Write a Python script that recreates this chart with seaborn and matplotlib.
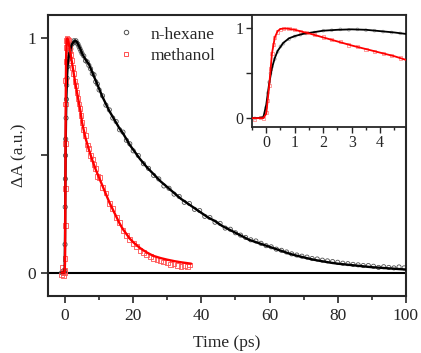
import matplotlib
matplotlib.use("Agg")
import matplotlib.pyplot as plt
from matplotlib.lines import Line2D
from matplotlib.ticker import MultipleLocator
import seaborn as sns
import pandas as pd

# ---------------- data ----------------
hex_t = [-1.0, -0.7, -0.4, -0.2, -0.1, 0.0, 0.05, 0.1, 0.15, 0.2, 0.3, 0.4, 0.5, 0.6, 0.8,
         1.0, 1.2, 1.4, 1.7, 2.0, 2.3, 2.6, 2.9, 3.2, 3.5, 3.8, 4.1, 4.4, 4.7, 5.0,
         5.5, 6.0, 6.5, 7.0, 7.5, 8.0, 8.5, 9.0, 9.5, 10, 11, 12, 13, 14, 15, 16, 17, 18, 19, 20,
         21.5, 23, 24.5, 26, 27.5, 29, 30.5, 32, 33.5, 35, 36.5, 38, 39.5, 41, 42.5, 44, 45.5,
         47, 48.5, 50, 51.5, 53, 54.5, 56, 57.5, 59, 60.5, 62, 63.5, 65, 66.5, 68, 69.5, 71,
         72.5, 74, 75.5, 77, 78.5, 80, 81.5, 83, 84.5, 86, 87.5, 89, 90.5, 92, 93.5, 95, 96.5,
         98, 99.5]
hex_v = [0.0, 0.005, -0.003, 0.0, 0.01, 0.12, 0.28, 0.40, 0.50, 0.57, 0.66, 0.74, 0.80, 0.83, 0.88,
         0.91, 0.93, 0.945, 0.955, 0.975, 0.98, 0.99, 0.985, 0.99, 0.98, 0.975, 0.965, 0.955, 0.945, 0.935,
         0.925, 0.905, 0.90, 0.885, 0.87, 0.85, 0.845, 0.815, 0.805, 0.78, 0.755, 0.715, 0.695, 0.66,
         0.645, 0.61, 0.60, 0.565, 0.55, 0.52,
         0.50, 0.465, 0.445, 0.415, 0.40, 0.37, 0.36, 0.335, 0.325, 0.30, 0.295, 0.27, 0.265, 0.24,
         0.235, 0.215, 0.21, 0.19, 0.185, 0.17, 0.16, 0.15, 0.14, 0.135, 0.125, 0.115, 0.11, 0.10,
         0.095, 0.088, 0.08, 0.075, 0.07, 0.066, 0.06, 0.058, 0.053, 0.05, 0.047, 0.044, 0.04,
         0.038, 0.035, 0.033, 0.03, 0.03, 0.027, 0.022, 0.025, 0.022, 0.02, 0.024, 0.02]

hex_fit_t = [-1.0, -0.3, -0.1, 0.0, 0.1, 0.2, 0.3, 0.4, 0.6, 0.8, 1.0, 1.3, 1.7, 2.0, 2.5, 3.0,
             3.5, 4.0, 4.5, 5.0, 6, 7, 8, 9, 10, 11, 12, 13, 14, 15, 16, 17, 18, 19, 20, 22, 24,
             26, 28, 30, 32, 34, 36, 38, 40, 42, 44, 46, 48, 50, 52, 54, 56, 58, 60, 62, 64, 66,
             68, 70, 72, 74, 76, 78, 80, 82, 84, 86, 88, 90, 92, 94, 96, 98, 100]
hex_fit_v = [0.0, 0.0, 0.01, 0.15, 0.38, 0.56, 0.67, 0.75, 0.84, 0.89, 0.915, 0.94, 0.96, 0.975,
             0.985, 0.99, 0.985, 0.97, 0.955, 0.935, 0.91, 0.89, 0.855, 0.82, 0.785, 0.75, 0.72,
             0.69, 0.665, 0.64, 0.615, 0.595, 0.57, 0.545, 0.525, 0.485, 0.45, 0.42, 0.39, 0.365,
             0.34, 0.315, 0.295, 0.275, 0.255, 0.235, 0.22, 0.20, 0.185, 0.17, 0.155, 0.14, 0.13,
             0.12, 0.11, 0.10, 0.09, 0.08, 0.072, 0.065, 0.058, 0.052, 0.047, 0.042, 0.038, 0.035,
             0.032, 0.029, 0.026, 0.023, 0.021, 0.019, 0.017, 0.015, 0.013]

met_t = [-1.0, -0.8, -0.6, -0.4, -0.2, -0.1, 0.0, 0.05, 0.1, 0.15, 0.2, 0.25, 0.3, 0.4, 0.5, 0.6,
         0.8, 1.0, 1.2, 1.4, 1.7, 2.0, 2.3, 2.6, 2.9, 3.2, 3.5, 3.8, 4.1, 4.4, 4.7, 5.0, 5.5, 6.0,
         6.5, 7.0, 7.5, 8.0, 8.5, 9.0, 9.5, 10, 11, 12, 13, 14, 15, 16, 17, 18, 19, 20, 21, 22, 23,
         24, 25, 26, 27, 28, 29, 30, 31, 32, 33, 34, 35, 36, 36.5]
met_v = [-0.01, 0.02, 0.0, -0.015, 0.01, 0.0, 0.06, 0.20, 0.36, 0.55, 0.72, 0.82, 0.90, 0.96, 0.99,
         1.0, 0.995, 0.99, 0.965, 0.95, 0.93, 0.905, 0.875, 0.85, 0.815, 0.80, 0.77, 0.745, 0.72,
         0.70, 0.67, 0.64, 0.61, 0.585, 0.545, 0.53, 0.50, 0.485, 0.46, 0.445, 0.41, 0.405, 0.365,
         0.34, 0.295, 0.275, 0.235, 0.215, 0.18, 0.16, 0.14, 0.125, 0.11, 0.095, 0.085, 0.075, 0.07,
         0.06, 0.055, 0.05, 0.045, 0.042, 0.035, 0.04, 0.03, 0.025, 0.03, 0.025, 0.032]

met_fit_t = [-1.0, -0.1, 0.0, 0.1, 0.2, 0.3, 0.4, 0.5, 0.7, 1.0, 1.3, 1.5, 2.0, 2.5, 3.0, 3.5,
             4.0, 4.5, 5.0, 6, 7, 8, 9, 10, 11, 12, 13, 14, 15, 16, 17, 18, 19, 20, 21, 22, 23,
             24, 25, 26, 28, 30, 32, 34, 36, 37]
met_fit_v = [0.0, 0.0, 0.05, 0.35, 0.72, 0.90, 0.97, 0.995, 1.0, 0.985, 0.96, 0.945, 0.90, 0.855,
             0.81, 0.77, 0.73, 0.69, 0.64, 0.575, 0.525, 0.48, 0.44, 0.405, 0.37, 0.335, 0.30,
             0.27, 0.24, 0.21, 0.185, 0.165, 0.145, 0.13, 0.117, 0.105, 0.095, 0.086, 0.078,
             0.071, 0.062, 0.055, 0.049, 0.044, 0.04, 0.038]

labels = ["n-hexane", "methanol"]

hex_df = pd.DataFrame({"t": hex_t, "v": hex_v})
met_df = pd.DataFrame({"t": met_t, "v": met_v})
hexf_df = pd.DataFrame({"t": hex_fit_t, "v": hex_fit_v})
metf_df = pd.DataFrame({"t": met_fit_t, "v": met_fit_v})

# ---------------- style ----------------
sns.set_style("ticks")
plt.rcParams["font.family"] = ["Liberation Serif", "DejaVu Serif"]
plt.rcParams["mathtext.fontset"] = "stix"

fig = plt.figure(figsize=(4.21, 3.53), dpi=100)
ax = fig.add_axes([0.114, 0.1615, 0.85, 0.796])

GREY = "#505050"
RED = "#ff5050"

def draw(a, s_c, s_sq, cgrey, cred, lw):
    sns.scatterplot(data=hex_df, x="t", y="v", ax=a, marker="o", s=s_c,
                    facecolor="none", edgecolor=cgrey, linewidth=0.6, legend=False, zorder=2)
    sns.scatterplot(data=met_df, x="t", y="v", ax=a, marker="s", s=s_sq,
                    facecolor="none", edgecolor=cred, linewidth=0.6, legend=False, zorder=2)
    sns.lineplot(data=hexf_df, x="t", y="v", ax=a, color="black", lw=lw,
                 estimator=None, sort=False, zorder=3)
    sns.lineplot(data=metf_df, x="t", y="v", ax=a, color="red", lw=lw,
                 estimator=None, sort=False, zorder=3)

draw(ax, 9, 12, GREY, RED, 1.7)
ax.axhline(0, color="black", lw=1.5, zorder=1)

ax.set_xlim(-5, 100)
ax.set_ylim(-0.1, 1.1)
ax.set_xticks([0, 20, 40, 60, 80, 100])
ax.xaxis.set_minor_locator(MultipleLocator(10))
ax.set_yticks([0, 0.5, 1])
ax.set_yticklabels(["0", "", "1"])
ax.tick_params(axis="both", which="major", length=5, width=1.2, labelsize=12.5, direction="out")
ax.tick_params(axis="x", which="minor", length=3, width=1.2, direction="out")
for sp in ax.spines.values():
    sp.set_linewidth(1.5)
    sp.set_visible(True)
ax.set_xlabel("Time (ps)", fontsize=12.5, labelpad=8)
ax.set_ylabel("ΔA (a.u.)", fontsize=12.5, labelpad=0)

handles = [Line2D([], [], ls="none", marker="o", ms=3.2, mfc="none", mec=GREY, mew=0.7),
           Line2D([], [], ls="none", marker="s", ms=3.5, mfc="none", mec=RED, mew=0.7)]
ax.legend(handles, labels, loc="upper left", bbox_to_anchor=(0.146, 1.015), frameon=False,
          fontsize=12.5, handletextpad=0.8, labelspacing=0.3, handlelength=1.2)

# ---------------- inset ----------------
ins = fig.add_axes([0.5986, 0.640, 0.3654, 0.3175])
draw(ins, 4, 5, "#b0b0b0", "#ff9090", 1.3)
ins.set_xlim(-0.5, 4.9)
ins.set_ylim(-0.1, 1.15)
ins.set_xticks([0, 1, 2, 3, 4])
ins.xaxis.set_minor_locator(MultipleLocator(0.5))
ins.set_yticks([0, 0.5, 1])
ins.set_yticklabels(["0", "", "1"])
ins.tick_params(axis="both", which="major", length=4, width=1.0, labelsize=11.5, direction="out", pad=2)
ins.tick_params(axis="x", which="minor", length=2.5, width=1.0, direction="out")
for sp in ins.spines.values():
    sp.set_linewidth(1.3)
    sp.set_visible(True)
ins.set_xlabel("")
ins.set_ylabel("")

fig.savefig("out.png", dpi=100)
